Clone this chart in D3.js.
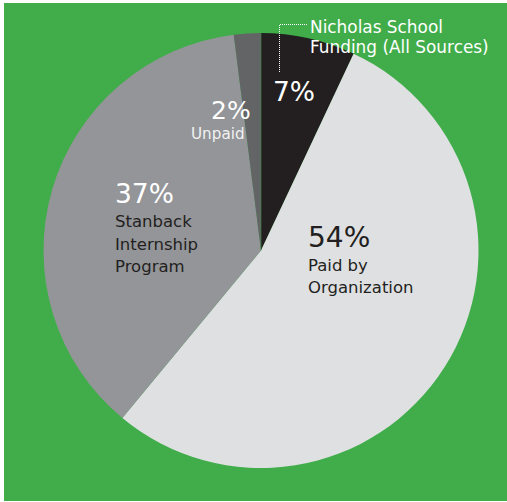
<!DOCTYPE html>
<html>
<head>
<meta charset="utf-8">
<script src="https://cdn.jsdelivr.net/npm/d3@7"></script>
<style>
  body { margin: 0; background: #fff; }
  svg { display: block; }
  text { font-family: "DejaVu Sans", sans-serif; }
</style>
</head>
<body>
<svg></svg>
<script>
const width = 507, height = 502

// data, clockwise from 12 o'clock
const categories = ["Nicholas School Funding (All Sources)", "Paid by Organization", "Stanback Internship Program", "Unpaid"]
const shares = [7, 54, 37, 2]
const pctLabels = ["7%", "54%", "37%", "2%"]
const subLabels = [[], ["Paid by", "Organization"], ["Stanback", "Internship", "Program"], ["Unpaid"]]

const colors = ["#231f20", "#dfe0e2", "#939598", "#636466"]
const pctColors = ["#ffffff", "#231f20", "#ffffff", "#ffffff"]
const subColors = ["#ffffff", "#231f20", "#231f20", "#f2f2f2"]

var svg = d3.select("svg")
    .attr("width", width)
    .attr("height", height);

// green panel
svg.append("rect")
    .attr("x", 4).attr("y", 3)
    .attr("width", width - 4).attr("height", height - 4)
    .attr("fill", "#41ad4a");

const cx = 261, cy = 250.5, radius = 217.5

const pie = d3.pie().sort(null).value(d => d)
const arc = d3.arc().innerRadius(0).outerRadius(radius)
const arcs = pie(shares)

const g = svg.append("g").attr("transform", `translate(${cx},${cy})`)

g.selectAll("path")
    .data(arcs)
    .enter()
    .append("path")
    .attr("d", arc)
    .attr("fill", (d, i) => colors[i]);

// thin seam at 12 o'clock between the black and dark-gray slices
g.append("line")
    .attr("x1", 0).attr("y1", 0)
    .attr("x2", 0).attr("y2", -radius)
    .attr("stroke", "#3f8f45")
    .attr("stroke-width", 0.6);

// label placement, relative to the pie centre (hand placed like the original)
const labelPos = [
    { x: 12, y: -150, lead: 0 },
    { x: 47, y: -3.5, lead: 21.5 },
    { x: -146, y: -47.5, lead: 22.5 },
    { x: -50, y: -131.5, lead: 15 }
]
const subOffset = [0, 0, 0, -20]

arcs.forEach((a, i) => {
    const p = labelPos[i]
    g.append("text")
        .attr("x", p.x)
        .attr("y", p.y)
        .attr("font-size", i == 1 ? 28 : (i == 3 ? 25 : 26.5))
        .attr("fill", pctColors[i])
        .text(pctLabels[i]);
    subLabels[i].forEach((s, j) => {
        g.append("text")
            .attr("x", p.x + subOffset[i])
            .attr("y", p.y + (i == 3 ? 19.5 : 24) + j * p.lead)
            .attr("font-size", i == 3 ? 15.2 : 16.5)
            .attr("fill", subColors[i])
            .text(s);
    });
});

// callout for the small black slice
const callX = 279.5, callY = 24.5
svg.append("path")
    .attr("d", `M${callX},72 V${callY} H307`)
    .attr("fill", "none")
    .attr("stroke", "#ffffff")
    .attr("stroke-width", 1)
    .attr("stroke-dasharray", "1,1");

const callout = svg.append("text")
    .attr("x", 310)
    .attr("y", 32.5)
    .attr("font-size", 16.9)
    .attr("fill", "#ffffff");
callout.append("tspan").attr("x", 310).text("Nicholas School");
callout.append("tspan").attr("x", 310).attr("dy", 20.5).text("Funding (All Sources)");
</script>
</body>
</html>
